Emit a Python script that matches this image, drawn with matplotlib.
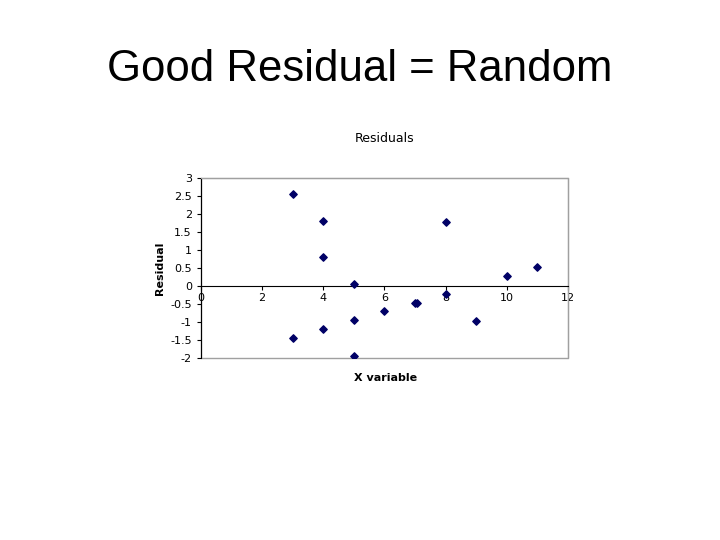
import matplotlib
matplotlib.use("Agg")
import matplotlib.pyplot as plt
from matplotlib.patches import Rectangle

x = [3, 3, 4, 4, 4, 5, 5, 5, 6, 7, 7.05, 8, 8, 9, 10, 11]
residual = [2.57, -1.45, 1.82, 0.8, -1.2, 0.05, -0.95, -1.93, -0.7, -0.47, -0.47, 1.78, -0.22, -0.98, 0.27, 0.53]
xticks = [0, 2, 4, 6, 8, 10, 12]
yticks = [3, 2.5, 2, 1.5, 1, 0.5, 0, -0.5, -1, -1.5, -2]

fig = plt.figure(figsize=(7.2, 5.4), dpi=100)
fig.text(0.5, 0.872, "Good Residual = Random", ha="center", va="center", fontsize=31.5, family="Liberation Sans")
ax = fig.add_axes([0.279, 0.337, 0.51, 0.333])
ax.scatter(x, residual, marker="D", s=14, color="#000066", zorder=3)
ax.set_xlim(0, 12)
ax.set_ylim(-2, 3)
ax.set_xticks(xticks)
ax.set_yticks(yticks)
ax.set_yticklabels([f"{v:g}" for v in yticks])
ax.spines["bottom"].set_position(("data", 0))
for s in ["top", "right"]:
    ax.spines[s].set_color("#a0a0a0")
ax.spines["left"].set_color("black")
ax.add_patch(Rectangle((0, -2), 12, 5, fill=False, edgecolor="#a0a0a0", lw=1, transform=ax.transData, clip_on=False, zorder=0))
ax.tick_params(labelsize=8, length=3, direction="out")
ax.tick_params(axis="x", pad=2)
ax.set_title("Residuals", fontsize=9, pad=26)
ax.set_ylabel("Residual", fontsize=8, fontweight="bold", labelpad=4)
fig.text(0.535, 0.295, "X variable", ha="center", fontsize=8, fontweight="bold")
fig.savefig("out.png", dpi=100)
